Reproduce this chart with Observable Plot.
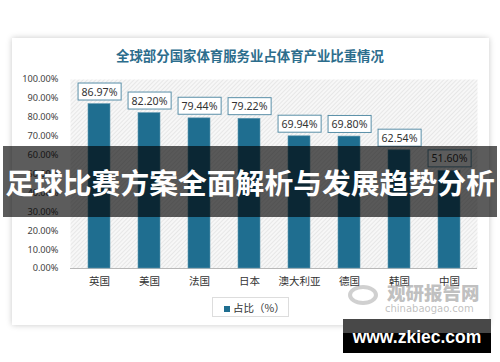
<!DOCTYPE html>
<html><head><meta charset="utf-8">
<script src="https://cdn.jsdelivr.net/npm/d3@7"></script>
<script src="https://cdn.jsdelivr.net/npm/@observablehq/plot@0.6"></script>
<style>
html,body{margin:0;padding:0;background:#fff;}
#page{position:relative;width:500px;height:362px;overflow:hidden;font-family:"Noto Sans","Noto Sans CJK SC",sans-serif;}
#card{position:absolute;left:12px;top:38px;width:477px;height:287px;background:#fff;box-shadow:0 0 6px rgba(0,0,0,0.22);}
#title{position:absolute;left:0;top:45px;width:500px;text-align:center;font:bold 13.4px "Noto Sans CJK SC",sans-serif;color:#2c6d8c;}
#chart{position:absolute;left:0;top:0;}
#legend{position:absolute;left:212px;top:297px;width:77px;height:20px;border:1px solid #ddd;font:10.5px "Noto Sans CJK SC",sans-serif;color:#333;line-height:19px;box-sizing:border-box;padding-left:11px;white-space:nowrap;}
#legend span.sw{display:inline-block;width:6px;height:6px;background:#1f6e90;margin-right:3px;vertical-align:0px;}
#wm{position:absolute;left:346px;top:281px;width:140px;height:34px;color:rgba(150,150,150,0.6);white-space:nowrap;}
#wm .big{position:absolute;left:41px;top:-2px;font:900 18.5px "Noto Sans CJK SC",sans-serif;line-height:26px;}
#wm .small{position:absolute;left:39px;top:22px;font:10px "DejaVu Sans",sans-serif;line-height:11px;}
#wm .logo{position:absolute;left:2px;top:4px;width:30px;height:20px;border:4px solid rgba(150,150,150,0.45);border-radius:50%;box-sizing:border-box;}
#banner{position:absolute;left:3px;top:146px;width:494px;height:71px;background:rgba(0,0,0,0.64);color:#fff;text-align:center;font:bold 28.8px "Noto Sans CJK SC",sans-serif;line-height:71px;white-space:nowrap;}
#site{position:absolute;left:343px;top:319px;width:148px;height:34px;background:linear-gradient(#484848 0,#484848 40%,#000 40%,#000 100%);color:#fff;text-align:center;font:bold 17.5px "Liberation Sans",sans-serif;line-height:36px;white-space:nowrap;}
</style></head>
<body>
<div id="page">
  <div id="card"></div>
  <div id="title">全球部分国家体育服务业占体育产业比重情况</div>
  <div id="chart"></div>
  <div id="legend"><span class="sw"></span>占比（%）</div>
  <div id="wm"><div class="logo"></div><div class="big">观研报告网</div><div class="small">chinabaogao.com</div></div>
  <div id="banner">足球比赛方案全面解析与发展趋势分析</div>
  <div id="site">www.zkiec.com</div>
</div>
<script>
const countries = ["英国","美国","法国","日本","澳大利亚","德国","韩国","中国"];
const values = [86.97, 82.20, 79.44, 79.22, 69.94, 69.80, 62.54, 51.60];
const yTicks = [0,10,20,30,40,50,60,70,80,90,100];

const data = countries.map((c,i)=>({country:c, value:values[i]}));
const barColor = "#1f6e90";

const svg = Plot.plot({
  width: 500, height: 300,
  marginLeft: 70, marginRight: 23, marginTop: 79, marginBottom: 32,
  style: {background:"transparent", fontFamily:"'Noto Sans','Noto Sans CJK SC',sans-serif"},
  x: {domain: countries, paddingInner: 0.57, paddingOuter: 0.285, label: null},
  y: {domain: [0,100], label: null},
  marks: [
    Plot.frame({fill: "url(#hatch)", stroke: null}),
    Plot.axisY({ticks: yTicks, tickFormat: d => d.toFixed(2) + "%", tickSize: 0, tickPadding: 12, fontSize: 9.2, fill: "#444", label: null}),
    Plot.axisX({tickSize: 0, tickPadding: 9, fontSize: 10.5, fill: "#333", label: null}),
    Plot.ruleY([0], {stroke: "#b8b8b8", strokeWidth: 1}),
    Plot.barY(data, {x: "country", y: "value", fill: barColor, stroke: "#5f97b0", strokeWidth: 0.6}),
    Plot.text(data, {x: "country", y: "value", text: d => d.value.toFixed(2) + "%", dy: -12, fontSize: 10.6, fill: "#333"})
  ]
});

// hatch pattern
const ns = "http://www.w3.org/2000/svg";
const defs = document.createElementNS(ns, "defs");
defs.innerHTML = '<pattern id="hatch" patternUnits="userSpaceOnUse" width="3" height="3" patternTransform="rotate(45)"><rect width="3" height="3" fill="#f7f7f7"/><line x1="0" y1="0" x2="0" y2="3" stroke="#dcdcdc" stroke-width="1.2"/></pattern>';
svg.insertBefore(defs, svg.firstChild);

document.getElementById("chart").appendChild(svg);

// boxes behind value labels
svg.querySelectorAll('g[aria-label="text"]').forEach(g => {
  g.querySelectorAll("text").forEach(t => {
    const b = t.getBBox();
    const r = document.createElementNS(ns, "rect");
    const w = b.width + 7, h = 17;
    const tr = t.getAttribute("transform");
    if (tr) r.setAttribute("transform", tr);
    r.setAttribute("x", b.x + b.width/2 - w/2);
    r.setAttribute("y", b.y + b.height/2 - h/2);
    r.setAttribute("width", w);
    r.setAttribute("height", h);
    r.setAttribute("fill", "#fff");
    r.setAttribute("stroke", "#5a8fa8");
    r.setAttribute("stroke-width", "1");
    g.insertBefore(r, t);
  });
});
</script>
</body></html>
